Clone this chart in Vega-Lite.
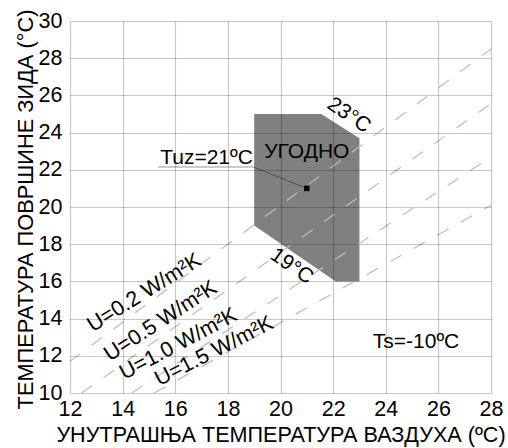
{
  "$schema": "https://vega.github.io/schema/vega-lite/v6.json",
  "width": 421,
  "height": 372,
  "autosize": {"type": "none"},
  "padding": {"left": 70, "top": 21, "right": 17, "bottom": 55},
  "config": {
    "view": {"stroke": null},
    "font": "Liberation Sans",
    "text": {"font": "Liberation Sans", "color": "#000"}
  },
  "datasets": {
    "zone": [
      {"i": 1, "x": 19, "y": 25},
      {"i": 2, "x": 21.55, "y": 25},
      {"i": 3, "x": 23, "y": 23.7},
      {"i": 4, "x": 23, "y": 16},
      {"i": 5, "x": 22.1, "y": 16},
      {"i": 6, "x": 19, "y": 19}
    ],
    "ulines": [
      {"u": "0.2", "x": 12, "y": 11.7},
      {"u": "0.2", "x": 28, "y": 28.5},
      {"u": "0.5", "x": 12.44, "y": 10},
      {"u": "0.5", "x": 28, "y": 25.56},
      {"u": "1.0", "x": 14.35, "y": 10},
      {"u": "1.0", "x": 28, "y": 22.69},
      {"u": "1.5", "x": 15.2, "y": 10},
      {"u": "1.5", "x": 28, "y": 20.09}
    ],
    "leader": [
      {"i": 1, "x": 15.34, "y": 22.15},
      {"i": 2, "x": 18.97, "y": 22.15},
      {"i": 3, "x": 21, "y": 21}
    ],
    "point": [{"x": 21, "y": 21}],
    "plain": [
      {"x": 18.95, "y": 22.33, "label": "Tuz=21ºC", "a": "right"},
      {"x": 21, "y": 22.62, "label": "УГОДНО", "a": "center"},
      {"x": 25.15, "y": 12.4, "label": "Ts=-10ºC", "a": "center"}
    ],
    "t23": [{"x": 22.6, "y": 24.93, "label": "23°C"}],
    "t19": [{"x": 20.42, "y": 16.81, "label": "19°C"}],
    "u02": [{"x": 14.95, "y": 15.1, "label": "U=0.2 W/m²K"}],
    "u05": [{"x": 15.58, "y": 13.58, "label": "U=0.5 W/m²K"}],
    "u10": [{"x": 16.24, "y": 12.33, "label": "U=1.0 W/m²K"}],
    "u15": [{"x": 17.59, "y": 11.94, "label": "U=1.5 W/m²K"}]
  },
  "encoding": {
    "x": {
      "field": "x",
      "type": "quantitative",
      "scale": {"domain": [12, 28], "nice": false, "zero": false},
      "axis": {
        "title": "УНУТРАШЊА ТЕМПЕРАТУРА ВАЗДУХА (ºC)",
        "values": [12, 14, 16, 18, 20, 22, 24, 26, 28],
        "grid": true,
        "gridColor": "#000",
        "gridOpacity": 0.22,
        "gridWidth": 1.2,
        "domain": false,
        "ticks": false,
        "tickSize": 0,
        "labelFontSize": 21.5,
        "labelColor": "#000",
        "labelFont": "Liberation Sans",
        "labelPadding": 22,
        "labelBaseline": "alphabetic",
        "labelFlush": false,
        "labelOverlap": false,
        "titleFont": "Liberation Sans",
        "titleFontSize": 21.6,
        "titleFontWeight": "normal",
        "titleColor": "#000",
        "titleBaseline": "alphabetic",
        "titleX": 210.5,
        "titleY": 48,
        "zindex": 1
      }
    },
    "y": {
      "field": "y",
      "type": "quantitative",
      "scale": {"domain": [10, 30], "nice": false, "zero": false},
      "axis": {
        "title": "ТЕМПЕРАТУРА ПОВРШИНЕ ЗИДА (°C)",
        "values": [10, 12, 14, 16, 18, 20, 22, 24, 26, 28, 30],
        "grid": true,
        "gridColor": "#000",
        "gridOpacity": 0.22,
        "gridWidth": 1.2,
        "domain": false,
        "ticks": false,
        "tickSize": 0,
        "labelFontSize": 21.5,
        "labelColor": "#000",
        "labelFont": "Liberation Sans",
        "labelPadding": 8,
        "labelBaseline": "middle",
        "labelFlush": false,
        "labelOverlap": false,
        "titleFont": "Liberation Sans",
        "titleFontSize": 21.8,
        "titleFontWeight": "normal",
        "titleColor": "#000",
        "titleBaseline": "alphabetic",
        "titleX": -38,
        "titleY": 188,
        "zindex": 1
      }
    }
  },
  "layer": [
    {
      "data": {"name": "zone"},
      "mark": {"type": "line", "fill": "#808080", "strokeOpacity": 0},
      "encoding": {"order": {"field": "i", "type": "quantitative"}}
    },
    {
      "data": {"name": "ulines"},
      "mark": {"type": "line", "color": "#bdbdbd", "strokeWidth": 1.2, "strokeDash": [13, 14]},
      "encoding": {"detail": {"field": "u", "type": "nominal"}}
    },
    {
      "data": {"name": "leader"},
      "mark": {"type": "line", "color": "#000", "strokeWidth": 1, "opacity": 0.4},
      "encoding": {"order": {"field": "i", "type": "quantitative"}}
    },
    {
      "data": {"name": "point"},
      "mark": {"type": "square", "color": "#000", "size": 30, "opacity": 1}
    },
    {
      "data": {"name": "plain"},
      "transform": [{"filter": "datum.a == 'right'"}],
      "mark": {"type": "text", "fontSize": 21, "align": "right", "baseline": "alphabetic"},
      "encoding": {"text": {"field": "label"}}
    },
    {
      "data": {"name": "plain"},
      "transform": [{"filter": "datum.a == 'center'"}],
      "mark": {"type": "text", "fontSize": 21, "align": "center", "baseline": "alphabetic"},
      "encoding": {"text": {"field": "label"}}
    },
    {
      "data": {"name": "t23"},
      "mark": {"type": "text", "fontSize": 21, "align": "center", "baseline": "middle", "angle": 34},
      "encoding": {"text": {"field": "label"}}
    },
    {
      "data": {"name": "t19"},
      "mark": {"type": "text", "fontSize": 21, "align": "center", "baseline": "middle", "angle": 35},
      "encoding": {"text": {"field": "label"}}
    },
    {
      "data": {"name": "u02"},
      "mark": {"type": "text", "fontSize": 21.5, "align": "center", "baseline": "alphabetic", "angle": -32},
      "encoding": {"text": {"field": "label"}}
    },
    {
      "data": {"name": "u05"},
      "mark": {"type": "text", "fontSize": 21.5, "align": "center", "baseline": "alphabetic", "angle": -33},
      "encoding": {"text": {"field": "label"}}
    },
    {
      "data": {"name": "u10"},
      "mark": {"type": "text", "fontSize": 21.5, "align": "center", "baseline": "alphabetic", "angle": -28},
      "encoding": {"text": {"field": "label"}}
    },
    {
      "data": {"name": "u15"},
      "mark": {"type": "text", "fontSize": 21.5, "align": "center", "baseline": "alphabetic", "angle": -27},
      "encoding": {"text": {"field": "label"}}
    }
  ]
}
